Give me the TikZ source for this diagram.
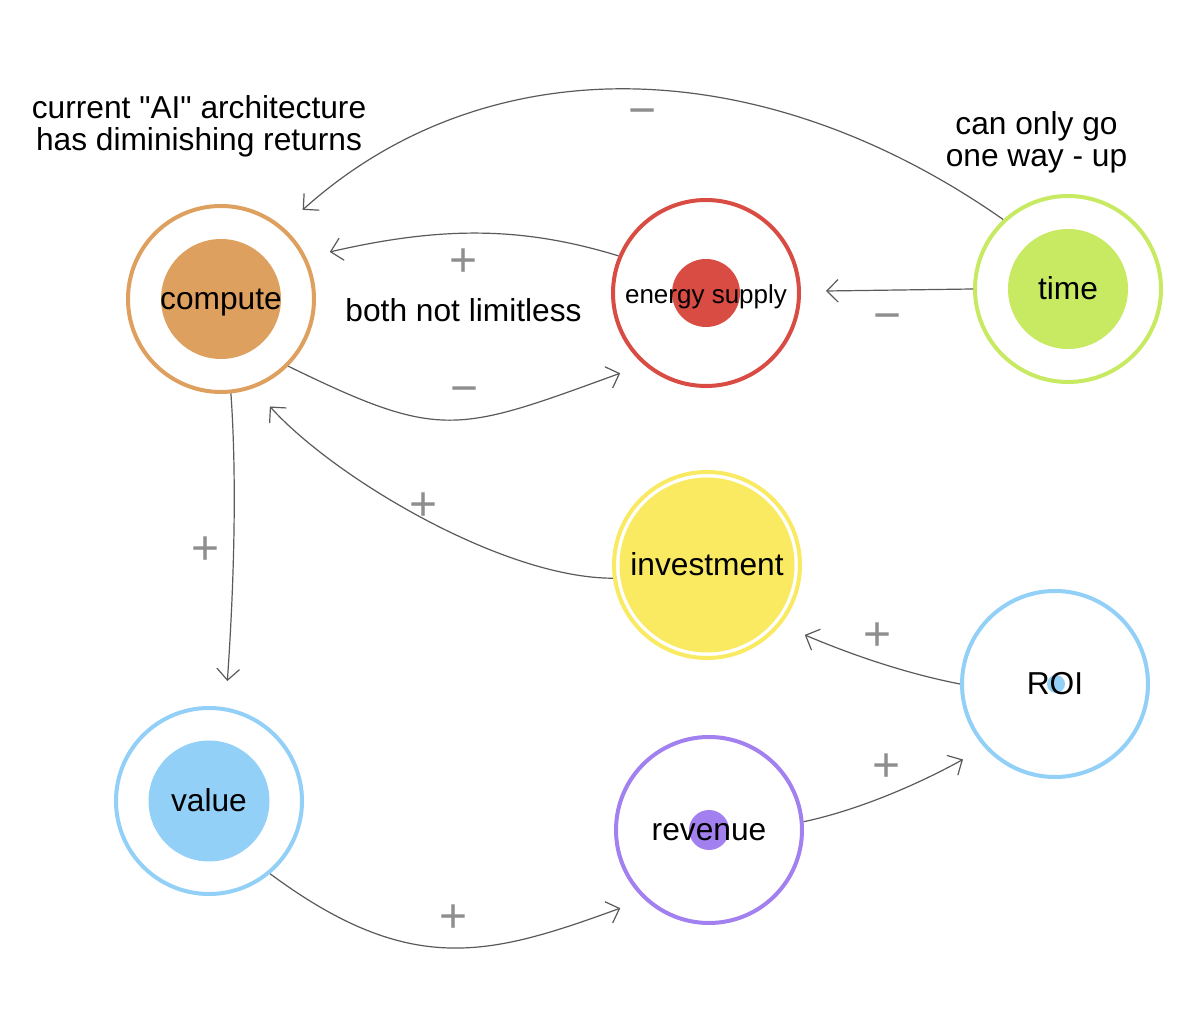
\documentclass[tikz,border=0pt]{standalone}
\usepackage{fontspec}
\setmainfont{Liberation Sans}[Ligatures=TeXOff]
\usetikzlibrary{arrows.meta}
\definecolor{cOrange}{HTML}{DEA05E}
\definecolor{cRed}{HTML}{D94C43}
\definecolor{cLime}{HTML}{C8EA62}
\definecolor{cYellow}{HTML}{F9EA62}
\definecolor{cBlue}{HTML}{93D0F8}
\definecolor{cPurple}{HTML}{A380F0}
\definecolor{linkgray}{HTML}{5A5A5A}
\definecolor{signgray}{HTML}{8E8E8E}
\begin{document}
\begin{tikzpicture}[x=1pt,y=1pt,
  ring/.style={circle, minimum size=186pt, inner sep=0pt, outer sep=2pt, line width=4pt,
    font=\fontsize{31.7}{32}\selectfont, text height=24.8pt, text depth=4.3pt},
  core/.style={circle, inner sep=0pt, outer sep=0pt, draw=none},
  link/.style={draw=linkgray, line width=1.2pt, -{Straight Barb[angle=90:16pt]}},
  sign/.style={text=signgray, font=\fontsize{48}{48}\selectfont, inner sep=0pt, text height=33pt, text depth=0pt},
  note/.style={align=center, font=\fontsize{31.7}{32}\selectfont, inner sep=0pt}
]
\useasboundingbox (0,0) rectangle (1200,1018);
\fill[white] (0,0) rectangle (1200,1018);

% nodes
\node[core, fill=cOrange, minimum size=120pt] (computeCore) at (221,719) {};
\node[ring, draw=cOrange] (compute) at (computeCore) {compute};

\node[core, fill=cRed, minimum size=68pt] (energyCore) at (706,725) {};
\node[ring, draw=cRed, font=\fontsize{26}{26}\selectfont] (energy) at (energyCore) {energy supply};

\node[core, fill=cLime, minimum size=120pt] (timeCore) at (1068,729) {};
\node[ring, draw=cLime] (time) at (timeCore) {time};

\node[core, fill=cYellow, minimum size=175pt] (investmentCore) at (707,453) {};
\node[ring, draw=cYellow] (investment) at (investmentCore) {investment};

\node[core, fill=cBlue, minimum size=18pt] (roiCore) at (1056,334) {};
\node[ring, draw=cBlue] (roi) at (1055,334) {ROI};

\node[core, fill=cBlue, minimum size=121pt] (valueCore) at (209,217) {};
\node[ring, draw=cBlue] (value) at (valueCore) {value};

\node[core, fill=cPurple, minimum size=40pt] (revenueCore) at (709,188) {};
\node[ring, draw=cPurple] (revenue) at (revenueCore) {revenue};

% notes
\node[note] (noteArch) at (199,892) {current "AI" architecture\\has diminishing returns};
\node[note] (noteTime) at (1036.5,875.5) {can only go\\one way - up};
\node[note] (noteLimit) at (463.5,707.5) {both not limitless};

% connectors
\draw[link, shorten >=26pt] (time.133) .. controls +(145:300) and +(42:270) .. (compute.49);
\draw[link, shorten >=24pt] (energy.157) .. controls +(163:100) and +(13:140) .. (compute.26);
\draw[link, shorten >=25pt] (compute.-45) .. controls +(-26:170) and +(200:200) .. (energy.229);
\draw[link, shorten >=25pt] (time.180) -- (energy.1);
\draw[link, shorten >=24.5pt] (investment.188) .. controls +(180:110) and +(-48:120) .. (compute.-70);
\draw[link, shorten >=26.5pt] (compute.-84) .. controls +(-86:100) and +(86:100) .. (value.80);
\draw[link, shorten >=25.5pt] (value.-50) .. controls +(-36.5:175) and +(200:165) .. (revenue.227);
\draw[link, shorten >=24.5pt] (revenue.5) .. controls +(12:60) and +(209:70) .. (roi.222);
\draw[link, shorten >=26pt] (roi.180) .. controls +(169:60) and +(-23:70) .. (investment.-39);

% signs
\node[sign] (s1) at (642.5,908) {−};
\node[sign] (s2) at (463.3,758) {+};
\node[sign] (s3) at (465,630) {−};
\node[sign] (s4) at (888,703) {−};
\node[sign] (s5) at (423.8,514.2) {+};
\node[sign] (s6) at (205.5,470) {+};
\node[sign] (s7) at (453.7,102.2) {+};
\node[sign] (s8) at (887,252.7) {+};
\node[sign] (s9) at (877.5,384.2) {+};
\end{tikzpicture}
\end{document}
